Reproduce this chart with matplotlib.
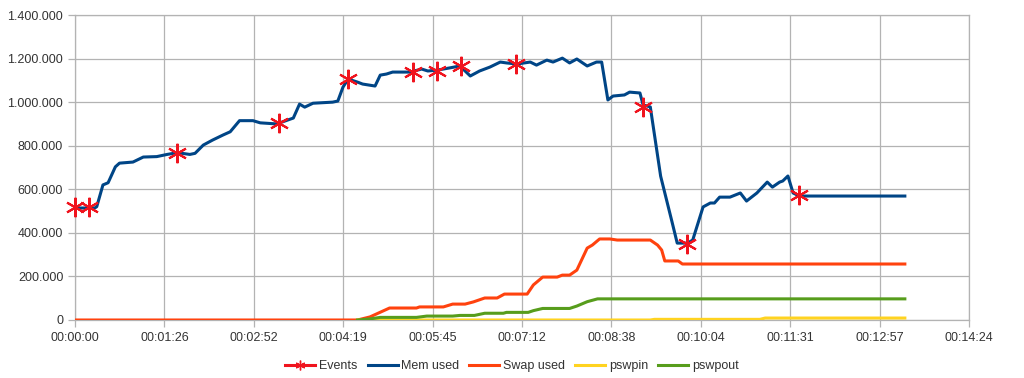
import matplotlib.pyplot as plt
from matplotlib.lines import Line2D
from matplotlib.ticker import FuncFormatter, MultipleLocator

# time in seconds since start, values in bytes/kB as shown on the chart
mem_t = [0, 19, 21, 27, 32, 39, 43, 56, 66, 79, 89, 99, 111, 116, 124, 133, 143, 150, 159, 172,
         179, 195, 211, 217, 222, 230, 249, 254, 259, 264, 273, 278, 290, 295, 301, 307, 324, 335,
         341, 350, 362, 372, 382, 391, 401, 411, 417, 427, 440, 446, 456, 462, 471, 478, 485, 495,
         504, 509, 515, 520, 531, 536, 546, 549, 556, 566, 577, 582, 592, 597, 607, 614, 618, 623,
         633, 643, 649, 659, 669, 674, 681, 684, 689, 694, 700, 802]
mem_used = [514, 514, 520, 620, 630, 703, 720, 725, 748, 750, 760, 768, 760, 765, 803, 826, 849,
            864, 915, 915, 905, 900, 927, 991, 977, 995, 1000, 1005, 1069, 1106, 1092, 1083, 1074,
            1124, 1129, 1138, 1138, 1152, 1143, 1147, 1157, 1166, 1120, 1143, 1161, 1184, 1180,
            1175, 1184, 1170, 1193, 1184, 1202, 1180, 1198, 1166, 1184, 1184, 1010, 1028, 1033,
            1046, 1042, 987, 978, 660, 450, 353, 353, 367, 519, 537, 537, 564, 564, 583, 546, 583,
            633, 610, 633, 638, 661, 583, 569, 569]

swap_t = [0, 273, 285, 304, 330, 333, 356, 365, 377, 385, 396, 408, 415, 437, 443, 452, 466, 471,
          478, 485, 495, 500, 507, 517, 524, 556, 563, 567, 570, 583, 587, 802]
swap_used = [0, 0, 14, 55, 55, 60, 60, 73, 73, 83, 101, 101, 119, 119, 161, 197, 197, 206, 206,
             229, 330, 344, 372, 372, 367, 367, 344, 321, 271, 271, 257, 257]

pswpin_t = [273, 556, 560, 662, 667, 802]
pswpin = [0, 0, 3, 3, 9, 9]

pswpout_t = [273, 285, 295, 330, 340, 365, 372, 386, 396, 414, 417, 438, 443, 452, 478, 485, 495,
             505, 802]
pswpout = [0, 5, 12, 12, 18, 18, 21, 21, 31, 31, 35, 35, 43, 53, 53, 64, 84, 97, 97]

event_t = [0, 14, 99, 197, 264, 327, 350, 373, 426, 549, 591, 700]
events = [519, 519, 766, 904, 1106, 1138, 1143, 1166, 1175, 978, 349, 574]


def k(values):
    return [v * 1000 for v in values]


def fmt_time(x, pos):
    s = int(x + 1e-6)
    return f"{s // 3600:02d}:{s % 3600 // 60:02d}:{s % 60:02d}"


def fmt_num(y, pos):
    return f"{int(round(y)):,}".replace(",", ".")


plt.rcParams["font.family"] = ["Liberation Sans", "DejaVu Sans"]

fig = plt.figure(figsize=(10.24, 3.78), dpi=100)
ax = fig.add_axes([75 / 1024, 1 - 320 / 378, (969 - 75) / 1024, (320 - 15) / 378])

lw = 2.2
ax.plot(mem_t, k(mem_used), color="#004586", lw=lw, zorder=3)
ax.plot(swap_t, k(swap_used), color="#ff420e", lw=lw, zorder=3)
ax.plot(pswpin_t, k(pswpin), color="#ffd320", lw=lw, zorder=3)
ax.plot(pswpout_t, k(pswpout), color="#579d1c", lw=lw, zorder=3)
ax.plot(event_t, k(events), ls="none", marker=(6, 2, 0), ms=14, mew=1.5,
        color="#f0141e", zorder=4, clip_on=False)

ax.set_xlim(0, 864)
ax.set_ylim(0, 1400000)
ax.xaxis.set_major_locator(MultipleLocator(86.4))
ax.yaxis.set_major_locator(MultipleLocator(200000))
ax.xaxis.set_major_formatter(FuncFormatter(fmt_time))
ax.yaxis.set_major_formatter(FuncFormatter(fmt_num))

ax.grid(True, color="#b3b3b3", lw=0.9)
ax.set_axisbelow(True)
for side in ax.spines.values():
    side.set_color("#b3b3b3")
    side.set_linewidth(0.9)
ax.tick_params(colors="#b3b3b3", labelcolor="#333333", labelsize=9, length=5, width=0.9)

handles = [
    Line2D([], [], color="#f0141e", lw=lw, marker=(6, 2, 0), ms=7, mew=1),
    Line2D([], [], color="#004586", lw=lw),
    Line2D([], [], color="#ff420e", lw=lw),
    Line2D([], [], color="#ffd320", lw=lw),
    Line2D([], [], color="#579d1c", lw=lw),
]
labels = ["Events", "Mem used", "Swap used", "pswpin", "pswpout"]
fig.legend(handles, labels, loc="center", bbox_to_anchor=(0.5, 1 - 366 / 378), ncol=5,
           frameon=False, fontsize=9, handlelength=2.4, columnspacing=0.8, handletextpad=0.3,
           labelcolor="#333333")

fig.savefig("out.png", dpi=100)
